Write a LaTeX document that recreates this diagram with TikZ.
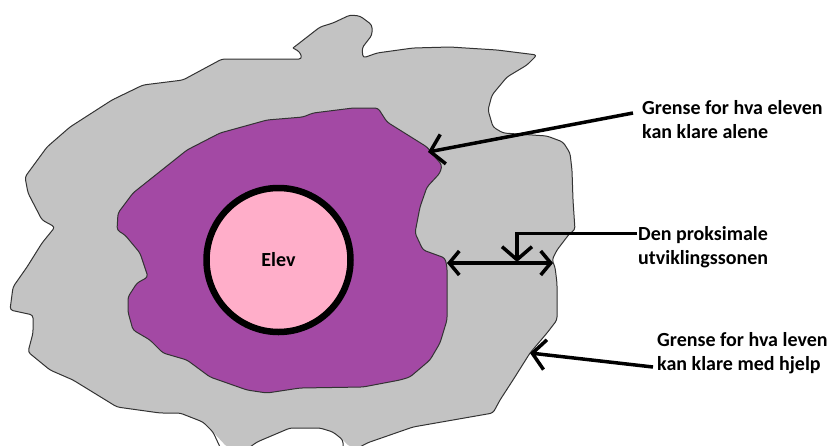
\documentclass[tikz,border=0pt]{standalone}
\usepackage{fontspec}
\setmainfont{Carlito}
\usetikzlibrary{arrows.meta}
\definecolor{sone}{HTML}{C3C3C3}
\definecolor{alene}{HTML}{A349A4}
\definecolor{rosa}{HTML}{FFAEC9}
\begin{document}
\begin{tikzpicture}[x=1pt, y=-1pt,
  omr/.style={draw=black!80, line width=1pt, line join=round, rounded corners=3pt},
  pil/.style={line width=3.5pt, -{Straight Barb[length=13pt,width=30pt]}},
  dobbel/.style={line width=3.5pt, {Straight Barb[length=10pt,width=24pt]}-{Straight Barb[length=10pt,width=24pt]}},
  tekst/.style={anchor=west, align=left, inner sep=1pt, font=\fontsize{20}{24}\selectfont\bfseries}]
\useasboundingbox (0,0) rectangle (835,445);
% Ytre sone (grå) - det eleven klarer med hjelp
\fill[sone, rounded corners=3pt] (293,48) -- (320,27) -- (333,23) -- (350,15) -- (360,16) -- (372,25) -- (372,35)
  -- (362,48) -- (363,58) -- (377,53) -- (413,48) -- (450,47) -- (497,50) -- (537,55)
  -- (527,65) -- (507,77) -- (492,95) -- (488,110) -- (493,127) -- (503,133) -- (547,136)
  -- (563,142) -- (570,153) -- (572,170) -- (573,200) -- (575,230) -- (570,233) -- (557,250)
  -- (552,260) -- (555,267) -- (557,283) -- (557,320) -- (547,333) -- (530,353) -- (513,380)
  -- (500,400) -- (493,413) -- (413,427) -- (367,443) -- (360,447) -- (350,447) -- (343,440)
  -- (333,432) -- (320,428) -- (290,428) -- (257,442) -- (250,447) -- (227,447) -- (213,432)
  -- (203,422) -- (180,413) -- (160,413) -- (117,407) -- (73,380) -- (50,370) -- (28,352)
  -- (33,333) -- (33,315) -- (10,310) -- (13,287) -- (27,267) -- (42,243) -- (55,227)
  -- (42,220) -- (28,193) -- (25,177) -- (47,147) -- (70,127) -- (112,100) -- (143,85)
  -- (183,80) -- (222,59) -- (302,59) -- (300,52) -- cycle;
\draw[omr] (293,48) -- (320,27) -- (333,23) -- (350,15) -- (360,16) -- (372,25) -- (372,35)
  -- (362,48) -- (363,58) -- (377,53) -- (413,48) -- (450,47) -- (497,50) -- (537,55)
  -- (527,65) -- (507,77) -- (492,95) -- (488,110) -- (493,127) -- (503,133) -- (547,136)
  -- (563,142) -- (570,153) -- (572,170) -- (573,200) -- (575,230) -- (570,233) -- (557,250)
  -- (552,260) -- (555,267) -- (557,283) -- (557,320) -- (547,333) -- (530,353) -- (513,380)
  -- (500,400) -- (493,413) -- (413,427) -- (367,443) -- (360,447);
\draw[omr] (343,447) -- (343,440) -- (333,432) -- (320,428) -- (290,428) -- (257,442) -- (250,447);
\draw[omr] (220,447) -- (213,432) -- (203,422) -- (180,413) -- (160,413) -- (117,407) -- (73,380)
  -- (50,370) -- (28,352) -- (33,333) -- (33,315) -- (10,310) -- (13,287) -- (27,267)
  -- (42,243) -- (55,227) -- (42,220) -- (28,193) -- (25,177) -- (47,147) -- (70,127)
  -- (112,100) -- (143,85) -- (183,80) -- (222,59) -- (302,59) -- (300,52) -- (293,48);
% Indre sone (lilla) - det eleven klarer alene
\draw[omr, fill=alene] (220,133) -- (267,120) -- (303,117) -- (313,113) -- (353,108) -- (378,108)
  -- (387,122) -- (403,132) -- (427,147) -- (435,157) -- (442,165) -- (440,173) -- (427,187)
  -- (420,207) -- (415,233) -- (423,250) -- (445,258) -- (447,267) -- (447,320) -- (440,343)
  -- (430,360) -- (410,377) -- (400,380) -- (363,387) -- (300,388) -- (267,393) -- (247,390)
  -- (210,377) -- (187,360) -- (163,353) -- (150,340) -- (133,330) -- (128,312) -- (128,297)
  -- (137,283) -- (148,277) -- (140,253) -- (125,235) -- (117,230) -- (118,213) -- (133,193)
  -- (187,150) -- cycle;
% Eleven
\node[circle, draw, line width=6.5pt, fill=rosa, minimum size=144pt,
  font=\fontsize{20}{24}\selectfont\bfseries] (elev) at (278.5,260) {Elev};
% Forklaringer
\node[tekst] (grenseA) at (641,120) {Grense for hva eleven\\kan klare alene};
\node[tekst] (sone) at (637,247.5) {Den proksimale\\utviklingssonen};
\node[tekst] (grenseB) at (656,353.5) {Grense for hva leven\\kan klare med hjelp};
\coordinate (tipA) at (428,152);
\coordinate (tipB) at (517,262);
\coordinate (tipC) at (530,353);
\coordinate (venstre) at (447,263);
\coordinate (hoyre) at (553,263);
% Piler
\draw[pil] ([xshift=-8pt, yshift=7pt]grenseA.west) -- (tipA);
\draw[dobbel] (venstre) -- (hoyre);
\draw[pil] ([yshift=14pt]sone.west) -| (tipB);
\draw[pil] ([xshift=-3pt, yshift=-13.5pt]grenseB.west) -- (tipC);
\end{tikzpicture}
\end{document}
